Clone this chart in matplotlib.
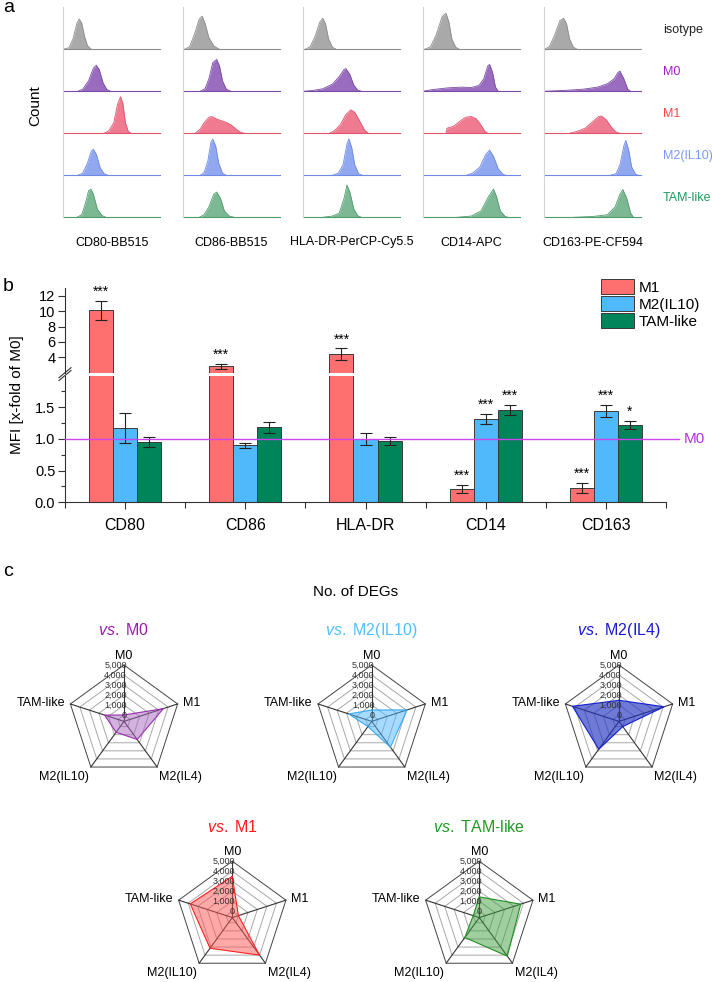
import numpy as np
import matplotlib
matplotlib.use('Agg')
import matplotlib.pyplot as plt
from matplotlib.lines import Line2D
from matplotlib.patches import Patch

plt.rcParams['font.family'] = ['Liberation Sans', 'DejaVu Sans']
plt.rcParams['mathtext.fontset'] = 'custom'
plt.rcParams['mathtext.rm'] = 'Liberation Sans'
plt.rcParams['mathtext.it'] = 'Liberation Sans:italic'

W, H = 712, 982

# ---- panel a : flow histograms, (x, height) points
hist_markers = ['CD80-BB515', 'CD86-BB515', 'HLA-DR-PerCP-Cy5.5', 'CD14-APC', 'CD163-PE-CF594']
hist_rows = ['isotype', 'M0', 'M1', 'M2(IL10)', 'TAM-like']

hist_cd80 = [
    [(0.0, 0), (0.06, 0.04), (0.10, 0.25), (0.14, 0.62), (0.165, 0.72), (0.19, 0.62), (0.22, 0.3), (0.25, 0.08), (0.29, 0)],
    [(0.15, 0), (0.2, 0.05), (0.26, 0.25), (0.31, 0.55), (0.34, 0.62), (0.37, 0.52), (0.41, 0.2), (0.45, 0.04), (0.49, 0)],
    [(0.42, 0), (0.47, 0.06), (0.52, 0.25), (0.56, 0.7), (0.59, 0.87), (0.615, 0.7), (0.64, 0.25), (0.67, 0.04), (0.7, 0)],
    [(0.15, 0), (0.2, 0.05), (0.25, 0.3), (0.29, 0.58), (0.31, 0.62), (0.34, 0.5), (0.38, 0.18), (0.42, 0.04), (0.46, 0)],
    [(0.14, 0), (0.19, 0.06), (0.23, 0.35), (0.26, 0.63), (0.285, 0.67), (0.31, 0.55), (0.35, 0.2), (0.40, 0.04), (0.44, 0)],
]
hist_cd86 = [
    [(0.02, 0), (0.07, 0.06), (0.12, 0.35), (0.17, 0.72), (0.2, 0.79), (0.23, 0.62), (0.27, 0.28), (0.32, 0.08), (0.38, 0)],
    [(0.18, 0), (0.23, 0.06), (0.27, 0.3), (0.31, 0.68), (0.35, 0.76), (0.38, 0.6), (0.41, 0.25), (0.45, 0.05), (0.5, 0)],
    [(0.13, 0), (0.18, 0.1), (0.22, 0.25), (0.27, 0.38), (0.3, 0.4), (0.36, 0.33), (0.45, 0.26), (0.5, 0.2), (0.55, 0.1), (0.6, 0.02), (0.64, 0)],
    [(0.18, 0), (0.22, 0.06), (0.26, 0.35), (0.29, 0.78), (0.31, 0.86), (0.34, 0.7), (0.37, 0.3), (0.41, 0.05), (0.45, 0)],
    [(0.17, 0), (0.22, 0.06), (0.27, 0.25), (0.32, 0.55), (0.35, 0.6), (0.39, 0.45), (0.43, 0.15), (0.48, 0.03), (0.53, 0)],
]
hist_hladr = [
    [(0.02, 0), (0.07, 0.06), (0.12, 0.3), (0.17, 0.65), (0.2, 0.74), (0.23, 0.6), (0.26, 0.25), (0.3, 0.05), (0.34, 0)],
    [(0.0, 0), (0.1, 0.02), (0.2, 0.06), (0.3, 0.17), (0.37, 0.35), (0.42, 0.52), (0.44, 0.54), (0.48, 0.4), (0.52, 0.15), (0.56, 0.03), (0.6, 0)],
    [(0.27, 0), (0.32, 0.06), (0.38, 0.2), (0.44, 0.45), (0.49, 0.56), (0.53, 0.5), (0.58, 0.3), (0.63, 0.08), (0.67, 0)],
    [(0.3, 0), (0.36, 0.05), (0.41, 0.25), (0.45, 0.75), (0.47, 0.87), (0.5, 0.65), (0.53, 0.25), (0.57, 0.04), (0.61, 0)],
    [(0.2, 0), (0.3, 0.03), (0.37, 0.1), (0.42, 0.45), (0.45, 0.77), (0.48, 0.6), (0.52, 0.2), (0.56, 0.04), (0.6, 0)],
]
hist_cd14 = [
    [(0.02, 0), (0.08, 0.06), (0.14, 0.35), (0.2, 0.78), (0.24, 0.86), (0.27, 0.65), (0.3, 0.25), (0.34, 0.05), (0.38, 0)],
    [(0.0, 0), (0.1, 0.04), (0.25, 0.08), (0.4, 0.1), (0.5, 0.09), (0.58, 0.14), (0.63, 0.3), (0.67, 0.6), (0.69, 0.64), (0.72, 0.45), (0.75, 0.1), (0.78, 0)],
    [(0.24, 0), (0.25, 0.12), (0.32, 0.17), (0.38, 0.28), (0.44, 0.38), (0.5, 0.4), (0.55, 0.35), (0.6, 0.2), (0.64, 0.05), (0.67, 0)],
    [(0.45, 0), (0.52, 0.06), (0.59, 0.2), (0.65, 0.5), (0.69, 0.6), (0.73, 0.45), (0.78, 0.15), (0.83, 0.02), (0.86, 0)],
    [(0.35, 0), (0.5, 0.03), (0.6, 0.15), (0.68, 0.5), (0.73, 0.67), (0.76, 0.5), (0.8, 0.15), (0.85, 0.02), (0.88, 0)],
]
hist_cd163 = [
    [(0.0, 0), (0.05, 0.06), (0.1, 0.3), (0.16, 0.68), (0.2, 0.74), (0.23, 0.6), (0.26, 0.25), (0.3, 0.05), (0.34, 0)],
    [(0.0, 0), (0.2, 0.02), (0.4, 0.05), (0.55, 0.1), (0.65, 0.18), (0.72, 0.3), (0.76, 0.45), (0.78, 0.48), (0.82, 0.3), (0.86, 0.05), (0.89, 0)],
    [(0.26, 0), (0.33, 0.04), (0.42, 0.12), (0.5, 0.28), (0.56, 0.4), (0.59, 0.41), (0.64, 0.32), (0.69, 0.15), (0.74, 0.03), (0.78, 0)],
    [(0.68, 0), (0.74, 0.04), (0.78, 0.25), (0.82, 0.7), (0.84, 0.83), (0.87, 0.6), (0.9, 0.2), (0.94, 0.03), (0.97, 0)],
    [(0.3, 0), (0.5, 0.02), (0.65, 0.06), (0.73, 0.25), (0.78, 0.55), (0.81, 0.66), (0.85, 0.45), (0.89, 0.1), (0.92, 0)],
]
hist_data = [hist_cd80, hist_cd86, hist_hladr, hist_cd14, hist_cd163]

# ---- panel b : MFI bars
markers = ['CD80', 'CD86', 'HLA-DR', 'CD14', 'CD163']
groups = ['M1', 'M2(IL10)', 'TAM-like']
m1 = [10.1, 2.85, 4.4, 0.21, 0.22]
m1_err = [1.2, 0.33, 0.75, 0.07, 0.08]
m2 = [1.17, 0.90, 1.0, 1.31, 1.44]
m2_err = [0.24, 0.04, 0.10, 0.08, 0.095]
tam = [0.95, 1.18, 0.97, 1.46, 1.22]
tam_err = [0.08, 0.09, 0.06, 0.08, 0.06]
m1_sig = ['***', '***', '***', '***', '***']
m2_sig = ['', '', '', '***', '***']
tam_sig = ['', '', '', '***', '*']

# ---- panel c : number of DEGs
radar_axes = ['M0', 'M1', 'M2(IL4)', 'M2(IL10)', 'TAM-like']
degs_vs_m0 = [0, 3500, 1600, 700, 1400]
degs_vs_m2il10 = [500, 3080, 2550, 0, 1770]
degs_vs_m2il4 = [1470, 4100, 0, 2800, 4250]
degs_vs_m1 = [3490, 0, 4000, 3150, 3780]
degs_vs_tam = [1430, 3710, 4130, 1820, 0]
ring_levels = [0, 1000, 2000, 3000, 4000, 5000]


def px_rect(x0, y0, x1, y1):
    return [x0 / W, 1 - y1 / H, (x1 - x0) / W, (y1 - y0) / H]


fig = plt.figure(figsize=(W / 100, H / 100), dpi=100)

# ================= a
row_fill = ['#a9a9a9', '#9a6cc0', '#ef7b90', '#91a7ef', '#7cb893']
row_line = ['#8c8c8c', '#7a4aa5', '#e0506b', '#6e88e6', '#4f9d6d']
row_text = ['#222222', '#a020c8', '#ff4444', '#7b98ff', '#1f9a60']
col_left = [63.3, 182.7, 303.3, 422.7, 544.3]
col_w = 97
base_y, pitch = 217.3, 42

for c, curves in enumerate(hist_data):
    ax = fig.add_axes(px_rect(col_left[c], base_y - 5 * pitch, col_left[c] + col_w, base_y))
    ax.set_xlim(0, 1)
    ax.set_ylim(0, 5)
    for r, pts in enumerate(curves):
        base = 4 - r
        xs = [p[0] for p in pts]
        ys = [base + p[1] for p in pts]
        ax.fill_between(xs, base, ys, color=row_fill[r], lw=0)
        ax.plot(xs, ys, color=row_line[r], lw=0.6)
        ax.axhline(base, color=row_line[r], lw=0.8, clip_on=False)
    for s in ['top', 'right', 'bottom']:
        ax.spines[s].set_visible(False)
    ax.spines['left'].set_color('#d4d4d4')
    ax.spines['left'].set_linewidth(0.8)
    ax.set_xticks([])
    ax.set_yticks([])
    fig.text((col_left[c] + col_w / 2) / W, 1 - 242.5 / H, hist_markers[c],
             ha='center', va='center', fontsize=9)

for r, lab in enumerate(hist_rows):
    fig.text(663 / W, 1 - (base_y - (4 - r) * pitch - 19.5) / H, lab,
             color=row_text[r], ha='left', va='center', fontsize=9)

fig.text(35 / W, 1 - 106 / H, 'Count', rotation=90, ha='center', va='center', fontsize=11)
fig.text(3 / W, 1 - 7 / H, 'a', ha='left', va='center', fontsize=14)

# ================= b
bar_cols = ['#fe6f6f', '#4fb9fc', '#00845a']
axU = fig.add_axes(px_rect(65, 288, 666, 372.7))
axL = fig.add_axes(px_rect(65, 375.5, 666, 502.3))
x = np.arange(len(markers))
series = [(m1, m1_err, m1_sig), (m2, m2_err, m2_sig), (tam, tam_err, tam_sig)]
for ax in (axU, axL):
    for k, (vals, errs, sig) in enumerate(series):
        ax.bar(x + (k - 1) * 0.2, vals, 0.2, yerr=errs, color=bar_cols[k],
               edgecolor='#3a3a3a', linewidth=0.7,
               error_kw=dict(ecolor='#222222', elinewidth=0.8, capsize=4, capthick=0.8))
    ax.set_xlim(-0.5, 4.5)
    for s in ['top', 'right']:
        ax.spines[s].set_visible(False)
    ax.spines['left'].set_linewidth(0.8)
    ax.spines['left'].set_color('#333333')
    ax.tick_params(axis='y', direction='out', length=5, width=0.8, labelsize=10.5, colors='#333333',
                   labelcolor='black', pad=2)

axU.set_ylim(2, 13)
axU.set_yticks([4, 6, 8, 10, 12])
axU.spines['bottom'].set_visible(False)
axU.set_xticks([])

axL.set_ylim(0, 2.0)
axL.set_yticks([0, 0.5, 1.0, 1.5])
axL.set_yticklabels(['0.0', '0.5', '1.0', '1.5'])
axL.set_yticks([0.25, 0.75, 1.25, 1.75], minor=True)
axL.tick_params(axis='y', which='minor', direction='out', length=3, width=0.8, colors='#333333')
axL.spines['bottom'].set_linewidth(0.8)
axL.spines['bottom'].set_color('#333333')
axL.set_xticks(x)
axL.set_xticklabels(markers)
axL.set_xticks(np.arange(-0.5, 5, 1), minor=True)
axL.tick_params(axis='x', which='major', direction='out', length=5, width=0.8, colors='#333333',
                labelcolor='black', labelsize=11.5, pad=6)
axL.tick_params(axis='x', which='minor', direction='out', length=4, width=0.8, colors='#333333')

for k, (vals, errs, sig) in enumerate(series):
    for i in range(len(markers)):
        if not sig[i]:
            continue
        top = vals[i] + errs[i]
        ax = axU if top > 2 else axL
        ax.annotate(sig[i], (x[i] + (k - 1) * 0.2, top), xytext=(0, 1.5), textcoords='offset points',
                    ha='center', va='bottom', fontsize=10)

axL.plot([-0.5, 4.61], [1, 1], color='#cc44ee', lw=1.0, clip_on=False, zorder=5)
axL.text(4.65, 1.0, 'M0', color='#b030e0', ha='left', va='center', fontsize=11)

# axis break marks
for yb in (372.7, 375.5):
    fig.add_artist(Line2D([59 / W, 71 / W], [1 - (yb + 5) / H, 1 - (yb - 5) / H],
                          color='#333333', lw=0.8))

fig.legend(handles=[Patch(facecolor=c, edgecolor='#3a3a3a', linewidth=0.7) for c in bar_cols],
           labels=groups, loc='upper left', bbox_to_anchor=(601 / W, 1 - 279 / H),
           frameon=False, fontsize=11, handlelength=2.15, handleheight=1.1,
           handletextpad=0.3, labelspacing=0.1, borderpad=0, borderaxespad=0)

fig.text(17 / W, 1 - 395 / H, 'MFI [x-fold of M0]', rotation=90, ha='center', va='center', fontsize=11)
fig.text(3 / W, 1 - 286 / H, 'b', ha='left', va='center', fontsize=14)

# ================= c
fig.text(3 / W, 1 - 572 / H, 'c', ha='left', va='center', fontsize=14)
fig.text(356 / W, 1 - 592 / H, 'No. of DEGs', ha='center', va='center', fontsize=11)

R = 56.4
theta = np.arange(len(radar_axes)) * 2 * np.pi / len(radar_axes)
theta_c = np.append(theta, theta[0])
label_pos = [((0, 6.5), 'center', 'center'), ((4, 1), 'left', 'center'),
             ((1.5, -3), 'left', 'top'), ((-1.5, -3), 'right', 'top'),
             ((-4, 1), 'right', 'center')]


def radar(cx, cy, ref, vals, tcol, fcol, ecol, alpha):
    ax = fig.add_axes(px_rect(cx - R, cy - R, cx + R, cy + R), projection='polar')
    ax.set_theta_zero_location('N')
    ax.set_theta_direction(-1)
    ax.set_ylim(-640, 5000)
    ax.grid(False)
    ax.set_xticks([])
    ax.set_yticks([])
    ax.spines['polar'].set_visible(False)
    ax.patch.set_alpha(0)
    for lv in ring_levels:
        ax.plot(theta_c, [lv] * len(theta_c), color='#444444' if lv == 5000 else '#a8a8a8',
                lw=0.7, clip_on=False, zorder=1)
    for t in theta:
        ax.plot([t, t], [-640, 5000], color='#333333', lw=0.8, clip_on=False, zorder=1)
    v = np.append(vals, vals[0])
    ax.fill(theta_c, v, color=fcol, alpha=alpha, lw=0, zorder=2)
    ax.plot(theta_c, v, color=ecol, lw=0.8, zorder=3)
    for lv in ring_levels:
        ax.annotate(f'{lv:,}', (0, lv), xytext=(2, 0), textcoords='offset points',
                    ha='right', va='center', fontsize=6.5, color='#333333', zorder=4)
    for t, lab, (off, ha, va) in zip(theta, radar_axes, label_pos):
        ax.annotate(lab, (t, 5000), xytext=off, textcoords='offset points',
                    ha=ha, va=va, fontsize=9, annotation_clip=False)
    fig.text(cx / W, 1 - (cy - 91) / H, r'$\it{vs.}$ ' + ref, color=tcol,
             ha='center', va='center', fontsize=11.5)


radar(124, 721.4, 'M0', degs_vs_m0, '#9a1fa8', '#a866c0', '#9a2fb0', 0.5)
radar(371.7, 721.4, 'M2(IL10)', degs_vs_m2il10, '#4fc0ff', '#4fb8ff', '#35aaf5', 0.5)
radar(619, 721.4, 'M2(IL4)', degs_vs_m2il4, '#1a1ad0', '#2233c0', '#1020d0', 0.65)
radar(232.3, 917.6, 'M1', degs_vs_m1, '#ff1a1a', '#ff5555', '#ff2020', 0.5)
radar(479.3, 917.6, 'TAM-like', degs_vs_tam, '#229a22', '#40a040', '#209020', 0.5)

fig.savefig('out.png', dpi=100)
